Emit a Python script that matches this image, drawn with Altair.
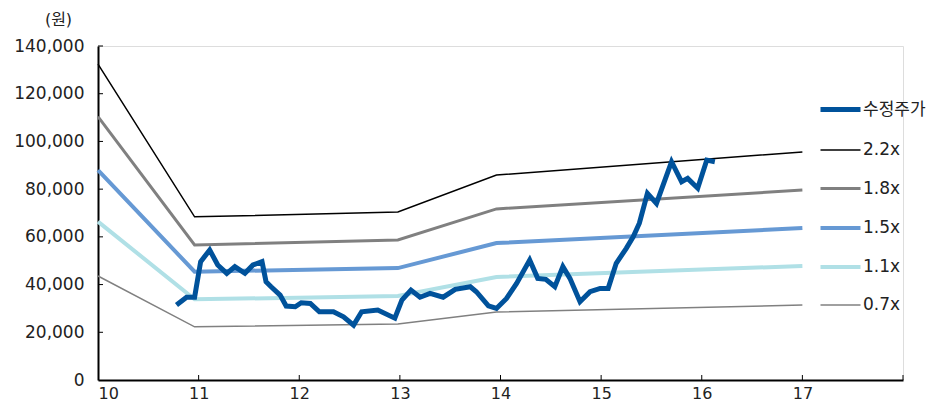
import altair as alt
import pandas as pd

# Band (PBR) lines: x in years (10 = 2010), values in KRW
band_x = [10.0, 10.96, 12.98, 13.96, 17.0]
band_22 = [132400, 68400, 70400, 85900, 95600]
band_18 = [110400, 56600, 58700, 71700, 79600]
band_15 = [88000, 45400, 46900, 57400, 63700]
band_11 = [66400, 33800, 35200, 43200, 47800]
band_07 = [43600, 22300, 23500, 28500, 31400]

# Adjusted share price
price_x = [10.78, 10.88, 10.96, 11.02, 11.11, 11.19, 11.28, 11.36, 11.46, 11.54,
           11.63, 11.67, 11.72, 11.81, 11.87, 11.96, 12.02, 12.11, 12.20, 12.34,
           12.44, 12.54, 12.62, 12.78, 12.95, 13.02, 13.11, 13.20, 13.30, 13.43,
           13.55, 13.70, 13.76, 13.88, 13.96, 14.06, 14.16, 14.29, 14.37, 14.45,
           14.54, 14.62, 14.69, 14.79, 14.89, 14.99, 15.07, 15.15, 15.25, 15.32,
           15.38, 15.46, 15.55, 15.70, 15.80, 15.86, 15.96, 16.05, 16.13]
price_v = [31400, 34700, 34700, 49600, 54500, 48200, 44700, 47500, 44700, 48200,
           49600, 41200, 39100, 35600, 31000, 30700, 32400, 32100, 28600, 28600,
           26500, 23000, 28600, 29300, 25900, 33500, 37700, 34700, 36300, 34700,
           38000, 39100, 37000, 31100, 30000, 34200, 40500, 50300, 42600, 42200,
           39100, 47500, 42600, 32800, 37000, 38400, 38400, 48900, 55200, 60100,
           65700, 78200, 74000, 91500, 83100, 84500, 80400, 92200, 91500]

series_names = ["수정주가", "2.2x", "1.8x", "1.5x", "1.1x", "0.7x"]
series_colors = ["#00529b", "#000000", "#808080", "#6699d4", "#b0e0e6", "#808080"]
series_widths = [5, 1.5, 3, 4, 4, 1.5]

x_ticks = [11, 12, 13, 14, 15, 16, 17, 18]
y_ticks = [20000, 40000, 60000, 80000, 100000, 120000, 140000]

rows = []
for name, vals in zip(series_names[1:], [band_22, band_18, band_15, band_11, band_07]):
    for i, (xv, yv) in enumerate(zip(band_x, vals)):
        rows.append({"x": xv, "y": yv, "series": name, "i": i})
bands = pd.DataFrame(rows)
price = pd.DataFrame({"x": price_x, "y": price_v, "series": "수정주가",
                      "i": list(range(len(price_x)))})

W, H = 805, 334
FONT = "DejaVu Sans, Noto Sans CJK KR, sans-serif"

xscale = alt.Scale(domain=[10, 18], nice=False)
yscale = alt.Scale(domain=[0, 140000], nice=False)
cscale = alt.Scale(domain=series_names, range=series_colors)
wscale = alt.Scale(type="ordinal", domain=series_names, range=series_widths)

legend = alt.Legend(
    title=None, orient="none", legendX=720, legendY=41,
    symbolType="stroke", symbolSize=1600,
    labelFont=FONT, labelFontSize=17, labelColor="#222", labelOffset=0,
    rowPadding=9, padding=0,
)

xaxis = alt.Axis(values=list(range(10, 19)), format="d", ticks=False, grid=False,
                 labelExpr="datum.value >= 18 ? '' : datum.label",
                 domainColor="#000", domainWidth=2, labelPadding=5,
                 labelFont=FONT, labelFontSize=16, labelColor="#222", title=None)
yaxis = alt.Axis(values=[0] + y_ticks, format=",d", ticks=False, grid=False,
                 domainColor="#000", domainWidth=2, labelPadding=14,
                 labelFont=FONT, labelFontSize=17, labelColor="#222",
                 title="(원)", titleAngle=0, titleX=-40, titleY=-27,
                 titleAlign="center", titleBaseline="middle",
                 titleFont=FONT, titleFontSize=16, titleFontWeight="normal",
                 titleColor="#222")

band_layer = alt.Chart(bands).mark_line(strokeCap="butt").encode(
    x=alt.X("x:Q", scale=xscale, axis=xaxis),
    y=alt.Y("y:Q", scale=yscale, axis=yaxis),
    color=alt.Color("series:N", scale=cscale, legend=legend),
    strokeWidth=alt.StrokeWidth("series:N", scale=wscale, legend=legend),
    detail="series:N",
    order="i:Q",
)

price_layer = alt.Chart(price).mark_line(strokeJoin="miter", strokeCap="butt").encode(
    x=alt.X("x:Q", scale=xscale),
    y=alt.Y("y:Q", scale=yscale),
    color=alt.Color("series:N", scale=cscale, legend=legend),
    strokeWidth=alt.StrokeWidth("series:N", scale=wscale, legend=legend),
    order="i:Q",
)

xt = alt.Chart(pd.DataFrame({"t": x_ticks})).mark_rule(color="#000", strokeWidth=1).encode(
    x=alt.X("t:Q", scale=xscale), y=alt.value(H), y2=alt.value(H - 5))
yt = alt.Chart(pd.DataFrame({"t": y_ticks})).mark_rule(color="#000", strokeWidth=1).encode(
    y=alt.Y("t:Q", scale=yscale), x=alt.value(0), x2=alt.value(5))

chart = alt.layer(band_layer, price_layer, xt, yt).properties(
    width=W, height=H,
    autosize=alt.AutoSizeParams(type="none"),
    padding={"left": 90, "top": 38, "right": 30, "bottom": 24},
).configure_view(stroke=None).configure(background="white")

chart.save("out.html", embed_options={"renderer": "svg", "actions": False})
